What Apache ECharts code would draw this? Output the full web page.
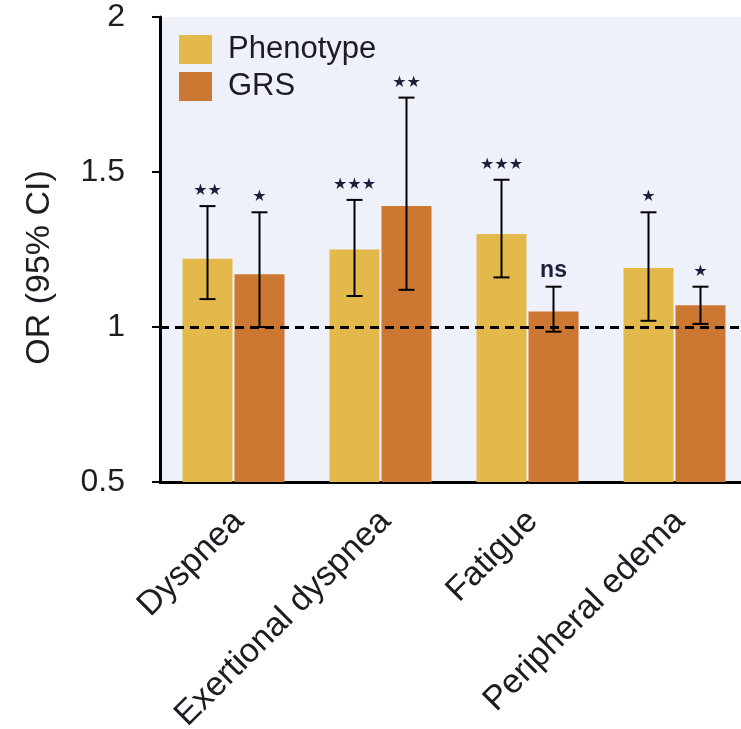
<!DOCTYPE html>
<html>
<head>
<meta charset="utf-8">
<script src="https://cdn.jsdelivr.net/npm/echarts@6/dist/echarts.min.js"></script>
<style>
  html, body { margin: 0; padding: 0; background: #ffffff; }
  #chart { width: 741px; height: 729px; }
</style>
</head>
<body>
<div id="chart"></div>
<script>
// Symptom categories and odds ratios (95% CI) per exposure
const categories = ['Dyspnea', 'Exertional dyspnea', 'Fatigue', 'Peripheral edema'];

const phenotypeOR   = [1.22, 1.25, 1.30, 1.19];
const phenotypeLow  = [1.09, 1.10, 1.16, 1.02];
const phenotypeHigh = [1.39, 1.41, 1.475, 1.37];
const phenotypeSig  = ['**', '***', '***', '*'];

const grsOR   = [1.17, 1.39, 1.05, 1.07];
const grsLow  = [1.00, 1.12, 0.985, 1.01];
const grsHigh = [1.37, 1.74, 1.13, 1.13];
const grsSig  = ['*', '**', 'ns', '*'];

const yTicks = [0.5, 1, 1.5, 2];

const FONT = "'Liberation Sans', Arial, Helvetica, sans-serif";
const TEXT = '#1c1c22';
const BAR_W = 50;
const BAR_GAP = 2;

function ciData(low, high, sig) {
  return low.map((l, i) => [i, l, high[i], sig[i]]);
}

// error bar with caps plus the significance mark above it
function ciRenderer(side) {
  return function (params, api) {
    const i = api.value(0);
    const lo = api.coord([i, api.value(1)]);
    const hi = api.coord([i, api.value(2)]);
    const x = lo[0] + side * (BAR_W + BAR_GAP) / 2;
    const cap = 8;
    const sig = String(api.value(3));
    const isNs = sig === 'ns';
    const lineStyle = { stroke: '#000', lineWidth: 2 };
    return {
      type: 'group',
      children: [
        { type: 'line', shape: { x1: x, y1: hi[1], x2: x, y2: lo[1] }, style: lineStyle },
        { type: 'line', shape: { x1: x - cap, y1: hi[1], x2: x + cap, y2: hi[1] }, style: lineStyle },
        { type: 'line', shape: { x1: x - cap, y1: lo[1], x2: x + cap, y2: lo[1] }, style: lineStyle },
        {
          type: 'text',
          style: {
            text: isNs ? sig : sig.replace(/\*/g, '\u2605'),
            x: x,
            y: hi[1] - (isNs ? 16 : 15),
            align: 'center',
            verticalAlign: 'middle',
            font: isNs ? 'bold 23px ' + FONT : '16px DejaVu Sans, sans-serif',
            fill: '#1d1f3a'
          }
        }
      ]
    };
  };
}

const chart = echarts.init(document.getElementById('chart'), null, { renderer: 'canvas' });

chart.setOption({
  animation: false,
  backgroundColor: '#ffffff',
  textStyle: { fontFamily: FONT },
  grid: {
    left: 160,
    top: 17,
    bottom: 247,
    width: 588,
    outerBoundsMode: 'none',
    containLabel: false,
    show: true,
    backgroundColor: '#eef1f9',
    borderWidth: 0
  },
  legend: {
    orient: 'vertical',
    left: 179,
    top: 34,
    padding: 0,
    itemWidth: 33,
    itemHeight: 29,
    itemGap: 6,
    icon: 'rect',
    data: ['Phenotype', 'GRS'],
    textStyle: { fontSize: 31, color: TEXT, fontFamily: FONT, lineHeight: 29, padding: [0, 0, 0, 11] }
  },
  xAxis: {
    type: 'category',
    data: categories,
    axisLine: { lineStyle: { color: '#000', width: 3 } },
    axisTick: { alignWithLabel: true, length: 9, lineStyle: { color: '#000', width: 2 } },
    axisLabel: {
      rotate: 45,
      interval: 0,
      margin: 15,
      padding: [0, 10, 0, 0],
      verticalAlign: 'top',
      fontSize: 34,
      color: TEXT,
      fontFamily: FONT
    },
    splitLine: { show: false }
  },
  yAxis: {
    type: 'value',
    min: yTicks[0],
    max: yTicks[yTicks.length - 1],
    interval: 0.5,
    name: 'OR (95% CI)',
    nameLocation: 'middle',
    nameGap: 103,
    nameTextStyle: { fontSize: 34, color: TEXT, fontFamily: FONT, padding: [0, 36, 0, 0] },
    axisLine: { show: true, lineStyle: { color: '#000', width: 3 } },
    axisTick: { show: true, length: 8, lineStyle: { color: '#000', width: 2 } },
    axisLabel: {
      margin: 35,
      fontSize: 32,
      color: TEXT,
      fontFamily: FONT,
      formatter: v => String(v)
    },
    splitLine: { show: false }
  },
  series: [
    {
      name: 'Phenotype',
      type: 'bar',
      data: phenotypeOR,
      barWidth: BAR_W,
      barGap: (BAR_GAP / BAR_W * 100) + '%',
      itemStyle: { color: '#e3b94b' },
      markLine: {
        silent: true,
        symbol: 'none',
        label: { show: false },
        lineStyle: { color: '#000', width: 3, type: [9, 6] },
        data: [{ yAxis: 1 }],
        z: 10
      }
    },
    {
      name: 'GRS',
      type: 'bar',
      data: grsOR,
      barWidth: BAR_W,
      itemStyle: { color: '#cd7832' }
    },
    {
      type: 'custom',
      renderItem: ciRenderer(-1),
      data: ciData(phenotypeLow, phenotypeHigh, phenotypeSig),
      encode: { x: 0, y: [1, 2] },
      z: 5
    },
    {
      type: 'custom',
      renderItem: ciRenderer(1),
      data: ciData(grsLow, grsHigh, grsSig),
      encode: { x: 0, y: [1, 2] },
      z: 5
    }
  ]
});
</script>
</body>
</html>
